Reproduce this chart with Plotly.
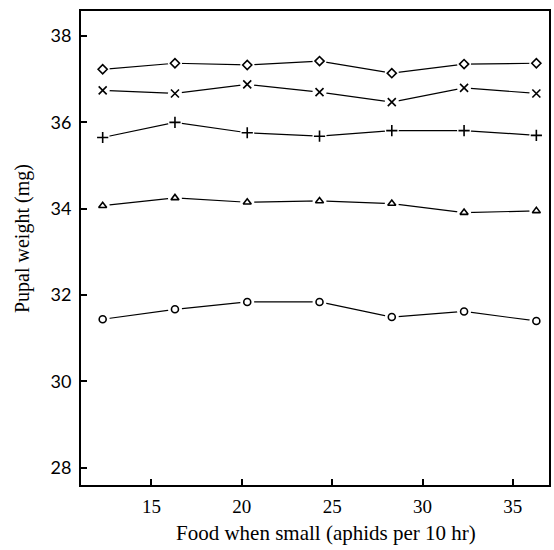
import plotly.graph_objects as go

# Food level during the small stage (aphids per 10 hr)
food = [12.3, 16.3, 20.3, 24.3, 28.3, 32.3, 36.3]

# Pupal weight (mg) for each treatment group
w_diamond = [37.23, 37.37, 37.33, 37.42, 37.14, 37.35, 37.37]
w_x = [36.74, 36.67, 36.88, 36.70, 36.47, 36.80, 36.67]
w_plus = [35.65, 36.00, 35.76, 35.68, 35.81, 35.81, 35.70]
w_triangle = [34.07, 34.25, 34.15, 34.18, 34.12, 33.91, 33.95]
w_circle = [31.44, 31.67, 31.84, 31.84, 31.49, 31.62, 31.40]

x_ticks = [15, 20, 25, 30, 35]
y_ticks = [28, 30, 32, 34, 36, 38]

series = [
    (w_diamond, "diamond-open", 7),
    (w_x, "x-thin-open", 8),
    (w_plus, "cross-thin-open", 8),
    (w_triangle, "triangle-up-open", 7),
    (w_circle, "circle-open", 7),
]

fig = go.Figure()
for ys, sym, sz in series:
    # connecting line
    fig.add_trace(go.Scatter(x=food, y=ys, mode="lines",
                             line=dict(color="black", width=1.2),
                             hoverinfo="skip", showlegend=False))
    # white halo so the line stops short of each marker
    fig.add_trace(go.Scatter(x=food, y=ys, mode="markers",
                             marker=dict(symbol="circle", size=14, color="white",
                                         line=dict(width=0)),
                             hoverinfo="skip", showlegend=False))
    fig.add_trace(go.Scatter(x=food, y=ys, mode="markers",
                             marker=dict(symbol=sym, size=sz, color="black",
                                         line=dict(color="black", width=1.6)),
                             showlegend=False))

fig.update_layout(
    width=554, height=550,
    margin=dict(l=81, r=3, t=11, b=65),
    plot_bgcolor="white", paper_bgcolor="white",
    font=dict(family="Liberation Serif", color="black"),
    annotations=[
        dict(text="Food when small (aphids per 10 hr)", xref="paper", yref="paper",
             x=0.523, y=-0.071, xanchor="center", yanchor="top", showarrow=False,
             font=dict(family="Liberation Serif", size=21)),
        dict(text="Pupal weight (mg)", xref="paper", yref="paper",
             x=-0.125, y=0.52, xanchor="center", yanchor="middle", showarrow=False,
             textangle=-90, font=dict(family="Liberation Serif", size=20)),
    ],
)
fig.update_xaxes(
    range=[11.1, 37.0], tickvals=x_ticks, ticks="inside", ticklen=6,
    tickwidth=1.5, tickcolor="black", showgrid=False, zeroline=False,
    showline=True, linecolor="black", linewidth=2, mirror=True,
    ticklabelstandoff=3,
    tickfont=dict(family="Liberation Serif", size=19),
)
fig.update_yaxes(
    range=[27.6, 38.58], tickvals=y_ticks, ticks="inside", ticklen=6,
    tickwidth=1.5, tickcolor="black", showgrid=False, zeroline=False,
    showline=True, linecolor="black", linewidth=2, mirror=True,
    ticklabelstandoff=4,
    tickfont=dict(family="Lato", size=18),
)

fig.write_html("out.html")
